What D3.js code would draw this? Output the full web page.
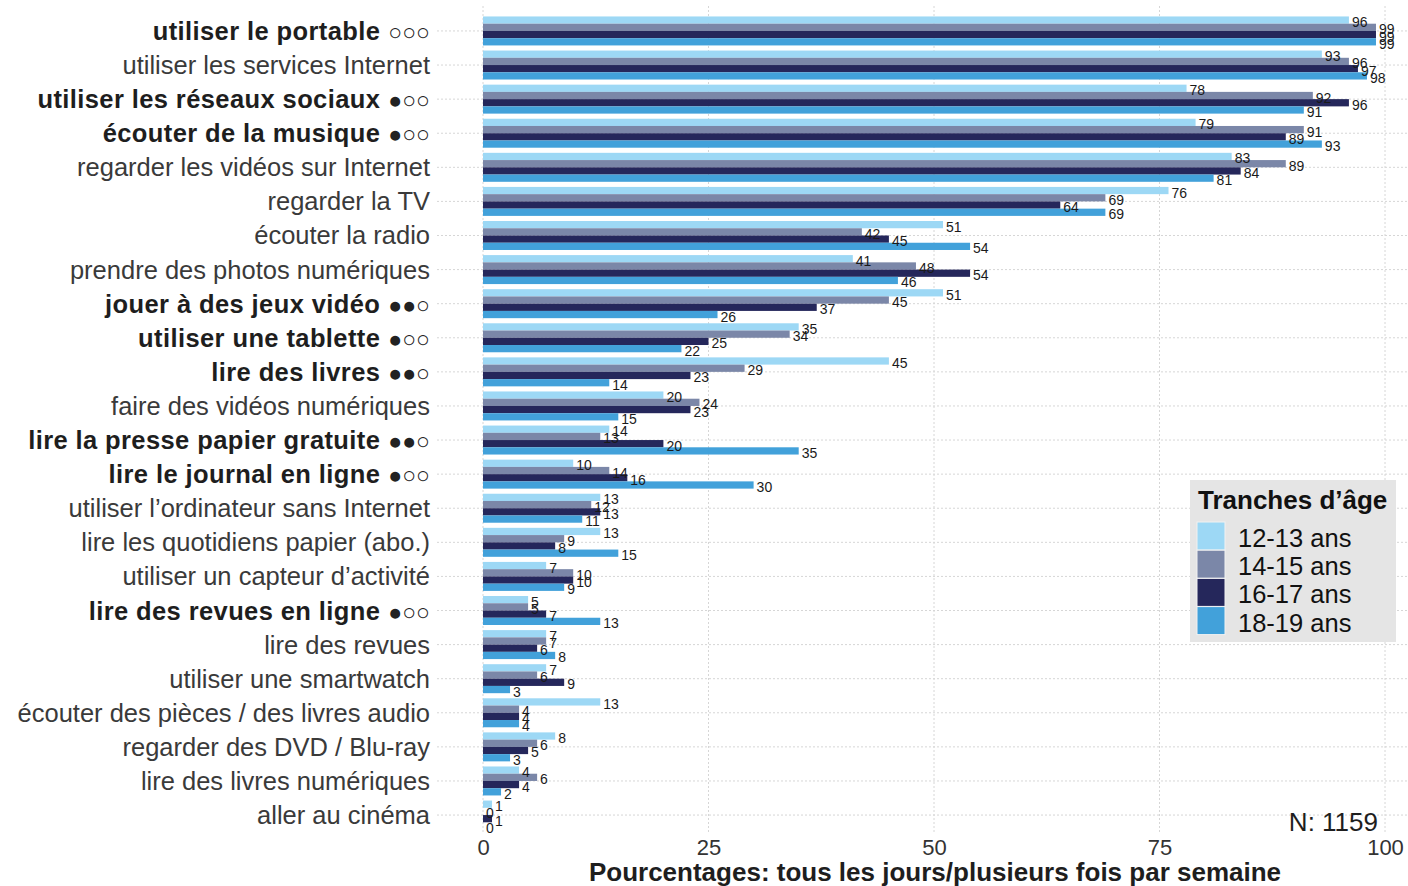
<!DOCTYPE html>
<html><head><meta charset="utf-8">
<script src="https://cdn.jsdelivr.net/npm/d3@7"></script>
<style>
body{margin:0;background:#fff}
svg{display:block;font-family:"Liberation Sans",Arial,sans-serif}
</style>
</head><body>
<svg id="c" width="1408" height="886"></svg>
<script>
const categories = [
  "utiliser le portable","utiliser les services Internet","utiliser les réseaux sociaux",
  "écouter de la musique","regarder les vidéos sur Internet","regarder la TV",
  "écouter la radio","prendre des photos numériques","jouer à des jeux vidéo",
  "utiliser une tablette","lire des livres","faire des vidéos numériques",
  "lire la presse papier gratuite","lire le journal en ligne","utiliser l’ordinateur sans Internet",
  "lire les quotidiens papier (abo.)","utiliser un capteur d’activité","lire des revues en ligne",
  "lire des revues","utiliser une smartwatch","écouter des pièces / des livres audio",
  "regarder des DVD / Blu-ray","lire des livres numériques","aller au cinéma"
];
const markers = [
  "○○○","","●○○","●○○","","","","","●●○","●○○","●●○","",
  "●●○","●○○","","","","●○○","","","","","",""
];
const ageGroups = ["12-13 ans","14-15 ans","16-17 ans","18-19 ans"];
const v1213 = [96,93,78,79,83,76,51,41,51,35,45,20,14,10,13,13,7,5,7,7,13,8,4,1];
const v1415 = [99,96,92,91,89,69,42,48,45,34,29,24,13,14,12,9,10,5,7,6,4,6,6,0];
const v1617 = [99,97,96,89,84,64,45,54,37,25,23,23,20,16,13,8,10,7,6,9,4,5,4,1];
const v1819 = [99,98,91,93,81,69,54,46,26,22,14,15,35,30,11,15,9,13,8,3,4,3,2,0];
const xTicks = [0,25,50,75,100];
const legendTitle = "Tranches d’âge";
const xTitle = "Pourcentages: tous les jours/plusieurs fois par semaine";
const note = "N: 1159";

const colors = ["#9dd8f5","#7b87a8","#25275b","#42a1da"];
const series = [v1213, v1415, v1617, v1819];

const svg = d3.select("#c");
const x = d3.scaleLinear().domain([0,100]).range([483,1385]);
const y = d3.scaleBand().domain(categories).range([13.9,832.1]).paddingInner(0.15).paddingOuter(0.075);
const yc = d => y(d) + y.bandwidth()/2;
const sub = d3.scaleBand().domain(ageGroups).range([0, y.bandwidth()]);
const color = d3.scaleOrdinal().domain(ageGroups).range(colors);

// grid
const grid = svg.append("g").attr("stroke","#d6d6d6").attr("stroke-width",1).attr("stroke-dasharray","2,2");
grid.selectAll("line.h").data(categories).join("line").attr("class","h")
  .attr("x1",437).attr("x2",1408).attr("y1",d=>yc(d)).attr("y2",d=>yc(d));
grid.selectAll("line.v").data(xTicks).join("line").attr("class","v")
  .attr("x1",d=>x(d)).attr("x2",d=>x(d)).attr("y1",6).attr("y2",832);

// bars
const rows = [];
categories.forEach((c,i)=>ageGroups.forEach((g,j)=>rows.push({c,g,v:series[j][i]})));
svg.append("g").selectAll("rect").data(rows).join("rect")
  .attr("x",x(0)).attr("y",d=>y(d.c)+sub(d.g))
  .attr("width",d=>x(d.v)-x(0)).attr("height",sub.bandwidth())
  .attr("fill",d=>color(d.g));

// value labels
svg.append("g").selectAll("text").data(rows).join("text")
  .attr("x",d=>x(d.v)+3).attr("y",d=>y(d.c)+sub(d.g)+sub.bandwidth()/2+2)
  .attr("dominant-baseline","central").attr("font-size",14).attr("fill","#1a1a1a")
  .text(d=>d.v);

// category labels
const lab = svg.append("g").selectAll("text").data(categories).join("text")
  .attr("x",430).attr("y",d=>yc(d)).attr("text-anchor","end").attr("dominant-baseline","central")
  .attr("font-size",(d,i)=>markers[i]?25.5:25.5)
  .attr("fill",(d,i)=>markers[i]?"#1e1e1e":"#3a3a3a")
  .attr("font-weight",(d,i)=>markers[i]?"bold":"normal")
  .attr("letter-spacing",(d,i)=>markers[i]?0.4:0);
lab.append("tspan").text(d=>d);
lab.filter((d,i)=>markers[i]).append("tspan").attr("font-size",23).attr("font-weight","normal")
  .attr("dx",8).attr("dy",1).attr("letter-spacing",0)
  .attr("fill","#222")
  .text((d)=>markers[categories.indexOf(d)]);

// x axis
const xAxis = d3.axisBottom(x).tickValues(xTicks).tickSize(0).tickPadding(0);
const ax = svg.append("g").attr("transform","translate(0,839)").call(xAxis);
ax.select(".domain").remove();
ax.selectAll("text").attr("font-size",22).attr("fill","#333").attr("dy","0.71em");

svg.append("text").attr("x",935).attr("y",881).attr("text-anchor","middle")
  .attr("font-size",26).attr("font-weight","bold").attr("fill","#1e1e1e").text(xTitle);

svg.append("text").attr("x",1378).attr("y",831).attr("text-anchor","end")
  .attr("font-size",26).attr("fill","#1e1e1e").text(note);

// legend
const lg = svg.append("g").attr("transform","translate(1190,480)");
lg.append("rect").attr("width",206).attr("height",162).attr("fill","#e5e5e5");
lg.append("text").attr("x",8).attr("y",29).attr("font-size",26).attr("font-weight","bold")
  .attr("fill","#111").text(legendTitle);
const keys = lg.selectAll("g.k").data(ageGroups).join("g").attr("class","k")
  .attr("transform",(d,i)=>`translate(7,${42+i*28.2})`);
keys.append("rect").attr("width",28).attr("height",28).attr("fill",d=>color(d))
  .attr("stroke","#f2f2f2").attr("stroke-width",1);
keys.append("text").attr("x",41).attr("y",16).attr("dominant-baseline","central")
  .attr("font-size",25.5).attr("fill","#111").text(d=>d);
</script>
</body></html>
